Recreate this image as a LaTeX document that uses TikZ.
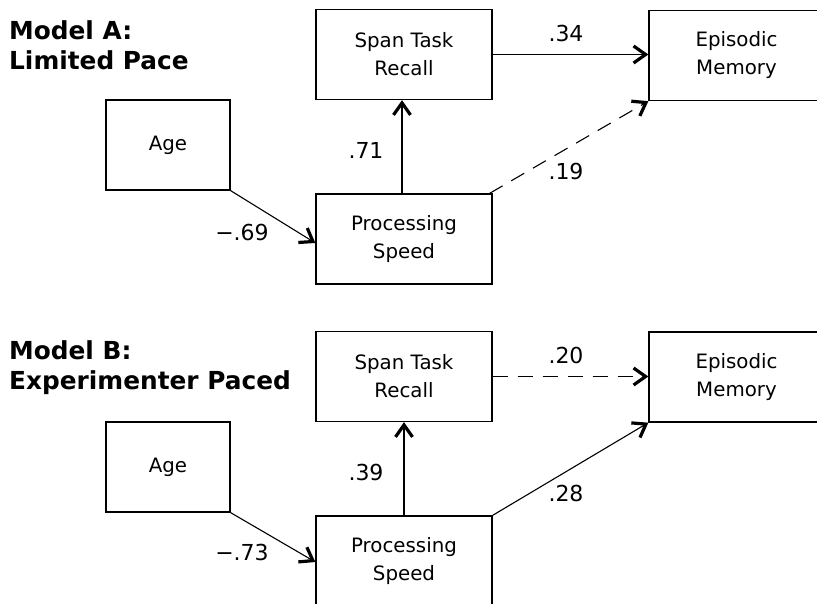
\documentclass[tikz,border=0pt]{standalone}
\usepackage{fontspec}
\setmainfont{DejaVu Sans}
\usetikzlibrary{arrows.meta}

\begin{document}
\begin{tikzpicture}[x=1pt,y=-1pt,
  box/.style={draw,line width=1.3pt,align=center,inner sep=0pt,
    minimum width=176pt,minimum height=90pt,
    font=\fontsize{19.8}{28}\selectfont},
  smallbox/.style={box,minimum width=124pt},
  conn/.style={line width=1.1pt,
    -{Straight Barb[length=12pt,width=17pt,line width=3.2pt]}},
  dashedconn/.style={conn,dash pattern=on 15pt off 10pt},
  coef/.style={inner sep=0pt,font=\fontsize{22}{26}\selectfont},
  heading/.style={inner sep=0pt,anchor=north west,align=left,
    font=\bfseries\fontsize{24.8}{30}\selectfont}]

\useasboundingbox (0,0) rectangle (817,603);

% ---------- Model A ----------
\node[heading] (titleA) at (9,20.5) {Model A:\\Limited Pace};

\node[box] (spanA) at (404,54.5) {Span Task\\Recall};
\node[box,minimum width=175pt] (epA) at (736.5,55.5) {Episodic\\Memory};
\node[smallbox] (ageA) at (168,145) {Age};
\node[box] (psA) at (404,239) {Processing\\Speed};

\draw[conn] (ageA.south east) -- ([yshift=-4pt]psA.west);
\draw[conn] ([xshift=-2pt]psA.north) -- ([xshift=-2pt]spanA.south);
\draw[conn] (spanA.east) -- (spanA.east -| epA.west);
\draw[dashedconn] ([xshift=-3pt]psA.north east) -- (epA.south west);

\node[coef] (cA1) at (242,232) {−.69};
\node[coef] (cA2) at (366,150) {.71};
\node[coef] (cA3) at (566,33) {.34};
\node[coef] (cA4) at (566,171) {.19};

% ---------- Model B ----------
\node[heading] (titleB) at (9,340.5) {Model B:\\Experimenter Paced};

\node[box] (spanB) at (404,376.5) {Span Task\\Recall};
\node[box,minimum width=175pt] (epB) at (736.5,377) {Episodic\\Memory};
\node[smallbox] (ageB) at (168,467) {Age};
\node[box] (psB) at (404,561) {Processing\\Speed};

\draw[conn] (ageB.south east) -- ([yshift=-1pt]psB.west);
\draw[conn] (psB.north) -- (spanB.south);
\draw[dashedconn] (spanB.east) -- (spanB.east -| epB.west);
\draw[conn] (psB.north east) -- (epB.south west);

\node[coef] (cB1) at (242,552) {−.73};
\node[coef] (cB2) at (366,472) {.39};
\node[coef] (cB3) at (566,355) {.20};
\node[coef] (cB4) at (566,493) {.28};

\end{tikzpicture}
\end{document}
